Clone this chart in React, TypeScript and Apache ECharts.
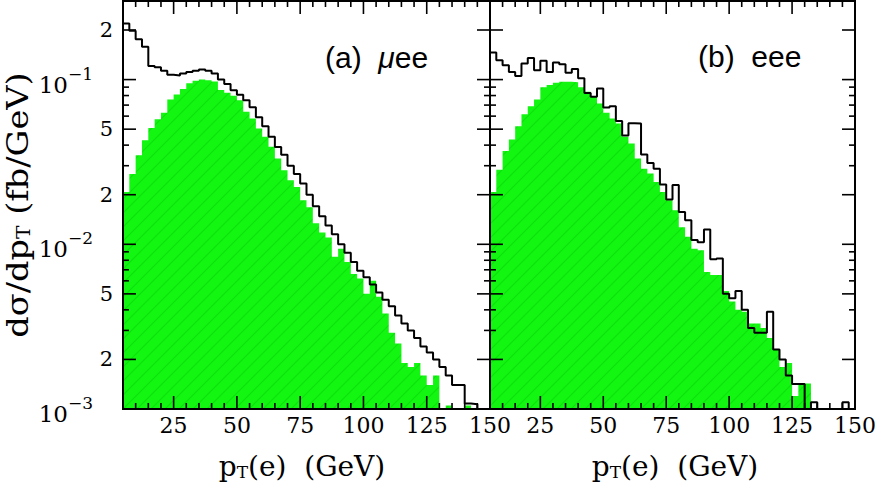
import React, { useEffect, useRef } from 'react';
import * as echarts from 'echarts';

const BIN_START = 5;
const BIN_WIDTH = 2.5;
const FLOOR = 0.001;
const X_MIN = 5;
const X_MAX = 150;
const Y_MIN = 0.001;
const Y_MAX = 0.3;

// (a) mu e e : black total, green signal (fb/GeV), 2.5 GeV bins starting at 5 GeV
const muTotal = [
  0.219, 0.198, 0.176, 0.158, 0.121, 0.119, 0.113, 0.107, 0.106, 0.109,
  0.111, 0.113, 0.115, 0.113, 0.109, 0.100, 0.094, 0.086, 0.081, 0.075,
  0.068, 0.059, 0.052, 0.045, 0.039, 0.035, 0.030, 0.0267, 0.0234, 0.0200,
  0.0170, 0.0148, 0.0130, 0.0115, 0.0100, 0.0089, 0.0078, 0.0069, 0.0063, 0.0057,
  0.0051, 0.0046, 0.0042, 0.0037, 0.0033, 0.0030, 0.0027, 0.0024, 0.0022, 0.0020,
  0.0018, 0.0016, 0.0014, 0.0014, 0.00108, 0.00107, 0, 0,
];
const muSignal = [
  0.0208, 0.0267, 0.0347, 0.0428, 0.0509, 0.0575, 0.0628, 0.0758, 0.0813, 0.0876,
  0.0949, 0.0985, 0.100, 0.099, 0.0975, 0.0863, 0.0831, 0.0797, 0.075, 0.0637,
  0.058, 0.0505, 0.0449, 0.0391, 0.0332, 0.0282, 0.0245, 0.0223, 0.0185, 0.0168,
  0.0134, 0.0118, 0.0110, 0.0084, 0.0094, 0.0078, 0.0066, 0.0062, 0.0050, 0.0060,
  0.0048, 0.0038, 0.0029, 0.0025, 0.0019, 0.0018, 0.0019, 0.0016, 0.0014, 0.0016,
  0, 0.00105, 0, 0, 0.00105, 0, 0, 0,
];
// (b) e e e
const eTotal = [
  0.146, 0.131, 0.122, 0.111, 0.105, 0.125, 0.135, 0.114, 0.130, 0.111,
  0.127, 0.124, 0.110, 0.116, 0.102, 0.083, 0.0786, 0.0884, 0.0678, 0.069,
  0.056, 0.0458, 0.0543, 0.0541, 0.0351, 0.0312, 0.0288, 0.0231, 0.0187, 0.0229,
  0.0157, 0.0140, 0.0106, 0.0103, 0.0123, 0.0081, 0.0082, 0.0050, 0.0047, 0.0052,
  0.0040, 0.0031, 0.0029, 0.0029, 0.0039, 0.0023, 0.0020, 0.0016, 0.00142, 0.00142,
  0, 0.0011, 0, 0, 0, 0, 0.0011, 0,
];
const eSignal = [
  0.0208, 0.0284, 0.0369, 0.0433, 0.0521, 0.0616, 0.069, 0.0758, 0.0897, 0.0926,
  0.0957, 0.097, 0.097, 0.0965, 0.0897, 0.0843, 0.0786, 0.0717, 0.0628, 0.058,
  0.0542, 0.0449, 0.0409, 0.0332, 0.0288, 0.0269, 0.0239, 0.0208, 0.0185, 0.0161,
  0.0127, 0.0111, 0.0094, 0.0092, 0.0068, 0.0065, 0.0065, 0.0052, 0.0045, 0.0040,
  0.0039, 0.0033, 0.0033, 0.0031, 0.0027, 0.0023, 0.0018, 0.0019, 0.0012, 0.0014,
  0.00143, 0, 0, 0, 0, 0, 0, 0,
];

const X_TICK_LABELS = [25, 50, 75, 100, 125, 150];
const X_MINOR_TICKS = [10, 15, 20, 30, 35, 40, 45, 55, 60, 65, 70, 80, 85, 90, 95, 105, 110, 115, 120, 130, 135, 140, 145];
const Y_MAJOR_TICKS = [0.002, 0.005, 0.01, 0.02, 0.05, 0.1, 0.2];
const Y_MINOR_TICKS = [0.003, 0.004, 0.006, 0.007, 0.008, 0.009, 0.03, 0.04, 0.06, 0.07, 0.08, 0.09];
const Y_LABEL_VALUES = [0.001, 0.002, 0.005, 0.01, 0.02, 0.05, 0.1, 0.2];
const Y_LABEL_BASES = ['10', '2', '5', '10', '2', '5', '10', '2'];
const Y_LABEL_EXPONENTS = ['−3', '', '', '−2', '', '', '−1', ''];
const PANEL_LABELS = ['(a)  {it|μ}ee', '(b)  eee'];
const X_TITLE = 'p{sub|T}(e)  (GeV)';
const Y_TITLE = 'dσ/dp{sub|T} (fb/GeV)';

const SERIF = '"DejaVu Serif", serif';
const SANS = '"Liberation Sans", Arial, sans-serif';

function stepPoints(values: number[]) {
  const pts = values.map((v, i) => [BIN_START + i * BIN_WIDTH, Math.max(v, FLOOR)]);
  pts.push([BIN_START + values.length * BIN_WIDTH, Math.max(values[values.length - 1], FLOOR)]);
  return pts;
}

function makeDecor(gridIndex: number, withYLabels: boolean) {
  return {
    type: 'custom',
    xAxisIndex: gridIndex,
    yAxisIndex: gridIndex,
    z: 10,
    silent: true,
    clip: false,
    data: [[77.5, 0.01]],
    renderItem: (params: any, api: any) => {
      const tl = api.coord([X_MIN, Y_MAX]);
      const br = api.coord([X_MAX, Y_MIN]);
      const left = tl[0], top = tl[1], right = br[0], bottom = br[1];
      const children: any[] = [];
      const tick = (x1: number, y1: number, x2: number, y2: number) =>
        children.push({ type: 'line', shape: { x1, y1, x2, y2 }, style: { stroke: '#000', lineWidth: 1.6 } });
      const LONG = 13, SHORT = 6;
      X_TICK_LABELS.forEach((v) => {
        const x = api.coord([v, Y_MIN])[0];
        tick(x, bottom, x, bottom - LONG);
        tick(x, top, x, top + LONG);
      });
      X_MINOR_TICKS.forEach((v) => {
        const x = api.coord([v, Y_MIN])[0];
        tick(x, bottom, x, bottom - SHORT);
        tick(x, top, x, top + SHORT);
      });
      Y_MAJOR_TICKS.forEach((v) => {
        const y = api.coord([X_MIN, v])[1];
        tick(left, y, left + LONG, y);
        tick(right, y, right - LONG, y);
      });
      Y_MINOR_TICKS.forEach((v) => {
        const y = api.coord([X_MIN, v])[1];
        tick(left, y, left + SHORT, y);
        tick(right, y, right - SHORT, y);
      });
      children.push({
        type: 'rect',
        shape: { x: left, y: top, width: right - left, height: bottom - top },
        style: { fill: 'none', stroke: '#000', lineWidth: 2 },
      });
      if (withYLabels) {
        Y_LABEL_VALUES.forEach((v, i) => {
          const y = api.coord([X_MIN, v])[1];
          const exp = Y_LABEL_EXPONENTS[i];
          if (exp) {
            children.push({
              type: 'text', x: left - 55, y: y + 5,
              style: { text: Y_LABEL_BASES[i], fontFamily: SERIF, fontSize: 23, fill: '#000', align: 'right', verticalAlign: 'middle' },
            });
            children.push({
              type: 'text', x: left - 55, y: y - 6,
              style: { text: exp, fontFamily: SERIF, fontSize: 17, fill: '#000', align: 'left', verticalAlign: 'middle' },
            });
          } else {
            children.push({
              type: 'text', x: left - 10, y,
              style: { text: Y_LABEL_BASES[i], fontFamily: SERIF, fontSize: 21, fill: '#000', align: 'right', verticalAlign: 'middle' },
            });
          }
        });
      }
      return { type: 'group', children };
    },
  };
}

export default function App() {
  const ref = useRef<HTMLDivElement>(null);
  useEffect(() => {
    if (!ref.current) return;
    const chart = echarts.init(ref.current, null, { renderer: 'svg' });

    const c = document.createElement('canvas');
    c.width = 14;
    c.height = 14;
    const ctx = c.getContext('2d');
    if (ctx) {
      ctx.fillStyle = '#12f612';
      ctx.fillRect(0, 0, 14, 14);
      ctx.strokeStyle = '#0de20d';
      ctx.lineWidth = 1.1;
      ctx.beginPath();
      ctx.moveTo(0, 14); ctx.lineTo(14, 0);
      ctx.moveTo(-2, 2); ctx.lineTo(2, -2);
      ctx.moveTo(12, 16); ctx.lineTo(16, 12);
      ctx.stroke();
    }
    const greenFill: any = { image: c, repeat: 'repeat', imageWidth: 14, imageHeight: 14 };

    const panels = [
      { total: muTotal, signal: muSignal },
      { total: eTotal, signal: eSignal },
    ];

    const series: any[] = [];
    panels.forEach((p, g) => {
      series.push({
        type: 'line',
        xAxisIndex: g,
        yAxisIndex: g,
        step: 'end',
        symbol: 'none',
        silent: true,
        z: 1,
        lineStyle: { width: 0 },
        areaStyle: { color: greenFill, opacity: 1, origin: 'start' },
        data: stepPoints(p.signal),
      });
      series.push({
        type: 'line',
        xAxisIndex: g,
        yAxisIndex: g,
        step: 'end',
        symbol: 'none',
        silent: true,
        z: 2,
        lineStyle: { color: '#000', width: 2 },
        data: stepPoints(p.total),
      });
      series.push(makeDecor(g, g === 0));
    });

    const option: any = {
      animation: false,
      grid: [
        { left: 123, top: 1, width: 367, height: 408, show: false },
        { left: 490, top: 1, width: 367, height: 408, show: false },
      ],
      xAxis: [0, 1].map((g) => ({
        type: 'value',
        gridIndex: g,
        min: X_MIN,
        max: X_MAX,
        interval: 5,
        axisLine: { show: false },
        axisTick: { show: false },
        splitLine: { show: false },
        axisLabel: {
          show: true,
          margin: 5,
          formatter: (v: number) => (X_TICK_LABELS.indexOf(Math.round(v)) >= 0 ? String(Math.round(v)) : ''),
          fontFamily: SERIF,
          fontSize: 22,
          color: '#000',
          showMinLabel: true,
          showMaxLabel: true,
        },
      })),
      yAxis: [0, 1].map((g) => ({
        type: 'log',
        gridIndex: g,
        logBase: 10,
        min: Y_MIN,
        max: Y_MAX,
        axisLine: { show: false },
        axisTick: { show: false },
        axisLabel: { show: false },
        splitLine: { show: false },
      })),
      graphic: [
        {
          type: 'text', x: 302, y: 466, silent: true,
          style: {
            text: X_TITLE, fontFamily: SERIF, fontSize: 28, fill: '#000', align: 'center', verticalAlign: 'middle',
            rich: { sub: { fontFamily: SERIF, fontSize: 17, padding: [12, 0, 0, 0] } },
          },
        },
        {
          type: 'text', x: 675, y: 466, silent: true,
          style: {
            text: X_TITLE, fontFamily: SERIF, fontSize: 28, fill: '#000', align: 'center', verticalAlign: 'middle',
            rich: { sub: { fontFamily: SERIF, fontSize: 17, padding: [12, 0, 0, 0] } },
          },
        },
        {
          type: 'text', x: 18, y: 205, rotation: Math.PI / 2, scaleX: 1.12, silent: true,
          style: {
            text: Y_TITLE, fontFamily: SERIF, fontSize: 30, fill: '#000', align: 'center', verticalAlign: 'middle',
            rich: { sub: { fontFamily: SERIF, fontSize: 18, padding: [12, 0, 0, 0] } },
          },
        },
        {
          type: 'text', x: 325, y: 57, silent: true,
          style: {
            text: PANEL_LABELS[0], fontFamily: SANS, fontSize: 30, fill: '#000', align: 'left', verticalAlign: 'middle',
            rich: { it: { fontFamily: SANS, fontSize: 30, fontStyle: 'italic' } },
          },
        },
        {
          type: 'text', x: 698, y: 56, silent: true,
          style: {
            text: PANEL_LABELS[1], fontFamily: SANS, fontSize: 30, fill: '#000', align: 'left', verticalAlign: 'middle',
          },
        },
      ],
      series,
    };
    chart.setOption(option);
    return () => chart.dispose();
  }, []);
  return (
    <div
      ref={ref}
      style={{ position: 'fixed', left: 0, top: 0, width: 879, height: 485, background: '#fff' }}
    />
  );
}
